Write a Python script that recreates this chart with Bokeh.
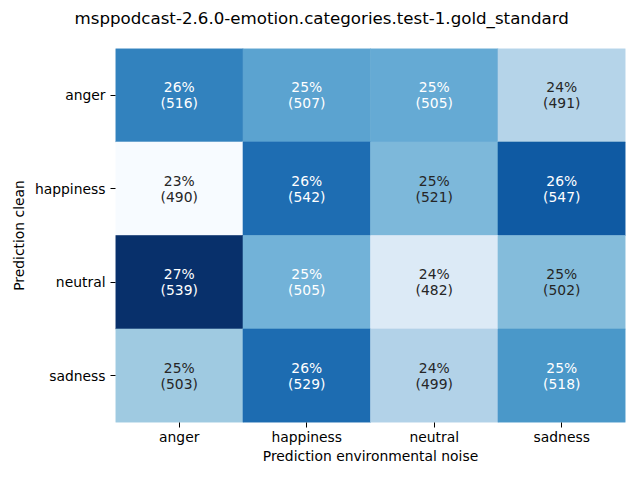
from bokeh.plotting import figure
from bokeh.models import ColumnDataSource, FactorRange, Title
from bokeh.transform import linear_cmap
from bokeh.core.properties import value
from bokeh.embed import file_html
from bokeh.resources import INLINE

# ---- data ----
rows = ["anger", "happiness", "neutral", "sadness"]      # Prediction clean
cols = ["anger", "happiness", "neutral", "sadness"]      # Prediction environmental noise
counts_anger = [516, 507, 505, 491]
counts_happiness = [490, 542, 521, 547]
counts_neutral = [539, 505, 482, 502]
counts_sadness = [503, 529, 499, 518]
counts = [counts_anger, counts_happiness, counts_neutral, counts_sadness]

title_text = "msppodcast-2.6.0-emotion.categories.test-1.gold_standard"
xlabel = "Prediction environmental noise"
ylabel = "Prediction clean"

# ---- colormap (matplotlib "Blues", interpolated from the 9 brewer anchors) ----
anchors = ["#f7fbff", "#deebf7", "#c6dbef", "#9ecae1", "#6baed6",
           "#4292c6", "#2171b5", "#08519c", "#08306b"]


def hex2rgb(h):
    return tuple(int(h[i:i + 2], 16) / 255 for i in (1, 3, 5))


def interp(t):
    t = min(max(t, 0.0), 1.0)
    pos = t * (len(anchors) - 1)
    i = min(int(pos), len(anchors) - 2)
    f = pos - i
    a, b = hex2rgb(anchors[i]), hex2rgb(anchors[i + 1])
    return tuple(a[k] + (b[k] - a[k]) * f for k in range(3))


palette = []
for i in range(256):
    r, g, b = interp(i / 255)
    palette.append("#%02x%02x%02x" % (round(r * 255), round(g * 255), round(b * 255)))


def lum(rgb):
    lin = [c / 12.92 if c <= 0.03928 else ((c + 0.055) / 1.055) ** 2.4 for c in rgb]
    return 0.2126 * lin[0] + 0.7152 * lin[1] + 0.0722 * lin[2]


xs, ys, pcts, labels, tcolors = [], [], [], [], []
for r, row in zip(rows, counts):
    tot = sum(row)
    for c, n in zip(cols, row):
        xs.append(c)
        ys.append(r)
        pcts.append(100.0 * n / tot)
        labels.append("%d%%\n(%d)" % (round(100.0 * n / tot), n))
vmin, vmax = min(pcts), max(pcts)
for pv in pcts:
    idx = int((pv - vmin) / (vmax - vmin) * 255 + 1e-9)
    rgb = hex2rgb(palette[idx])
    tcolors.append("#262626" if lum(rgb) > 0.408 else "#ffffff")

src = ColumnDataSource(dict(x=xs, y=ys, pct=pcts, label=labels, tc=tcolors))

FS = "13.89px"

p = figure(width=640, height=480, output_backend="svg", toolbar_location=None,
           x_range=FactorRange(*cols), y_range=FactorRange(*list(reversed(rows))),
           min_border_left=115, min_border_right=15, min_border_top=48, min_border_bottom=58)
p.frame_width = 510
p.frame_height = 374

cmap = linear_cmap("pct", palette, vmin, vmax)
p.rect(x="x", y="y", width=1, height=1, source=src,
       fill_color=cmap, line_color=cmap, line_width=0.6)
p.text(x="x", y="y", text="label", source=src, text_color="tc",
       text_align="center", text_baseline="middle",
       text_font=value("DejaVu Sans"), text_font_size=FS, text_line_height=1.03)

# a blank second line lifts the title higher inside the top border
p.title = Title(text=title_text + "\n ", align="left", offset=-41, standoff=0,
                vertical_align="top",
                text_font="DejaVu Sans", text_font_size="16.67px",
                text_font_style="normal", text_color="#000000")

p.xgrid.visible = False
p.ygrid.visible = False
p.outline_line_color = None
for ax in (p.xaxis[0], p.yaxis[0]):
    ax.axis_line_color = None
    ax.major_tick_in = 0
    ax.major_tick_out = 5
    ax.major_tick_line_color = "#000000"
    ax.major_tick_line_width = 1
    ax.minor_tick_line_color = None
    ax.major_label_text_font = "DejaVu Sans"
    ax.major_label_text_font_size = FS
    ax.major_label_text_color = "#000000"
    ax.axis_label_text_font = "DejaVu Sans"
    ax.axis_label_text_font_size = FS
    ax.axis_label_text_font_style = "normal"
    ax.axis_label_text_color = "#000000"
p.xaxis.major_label_standoff = 1
p.xaxis.axis_label_standoff = 0
p.yaxis.major_label_standoff = 5
p.yaxis.axis_label_standoff = 5
p.xaxis.axis_label = xlabel
p.yaxis.axis_label = ylabel
p.yaxis.major_label_orientation = "horizontal"

open("out.html", "w").write(file_html(p, INLINE))
